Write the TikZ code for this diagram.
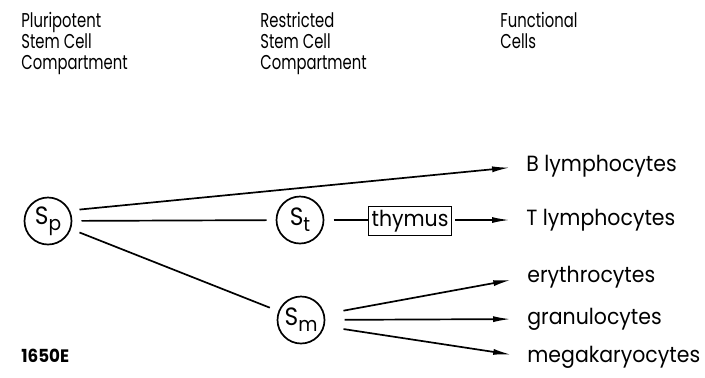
\documentclass[tikz,border=0pt]{standalone}
\usepackage{fontspec}
\setmainfont{Poppins}[FakeStretch=0.93]
\newfontfamily\headfont{Poppins}[FakeStretch=0.74]
\usetikzlibrary{arrows.meta}
\newcommand{\stemsub}[1]{\raisebox{-0.45ex}{\fontsize{10}{10}\selectfont #1}}

\begin{document}
\begin{tikzpicture}[x=0.5pt,y=-0.5pt,
    stem/.style={draw,circle,line width=0.85pt,minimum size=23.5pt,inner sep=0pt,outer sep=5pt,font=\fontsize{12.5}{12.5}\selectfont},
    head/.style={anchor=north west,align=left,inner sep=0pt,font=\headfont\fontsize{10}{10.5}\selectfont},
    cell/.style={anchor=west,inner sep=0pt,font=\fontsize{11}{12}\selectfont},
    arr/.style={line width=0.85pt,-{Latex[length=9pt,width=3pt]},shorten >=8pt},
    ln/.style={line width=0.85pt}]
  \useasboundingbox (0,0) rectangle (705,377);
  % column headings
  \node[head] (pluri) at (21,12) {Pluripotent\\Stem Cell\\Compartment};
  \node[head] (restr) at (260,12) {Restricted\\Stem Cell\\Compartment};
  \node[head] (func) at (500,12) {Functional\\Cells};
  % stem cells
  \node[stem] (sp) at (48,221) {S\stemsub{p}};
  \node[stem] (st) at (300,220) {S\stemsub{t}};
  \node[stem] (sm) at (301,320) {S\stemsub{m}};
  \node[draw,line width=0.85pt,inner xsep=1.5pt,inner ysep=1.8pt,font=\fontsize{11}{12}\selectfont] (thy) at (410,221) {thymus};
  % functional cells
  \node[cell] (blym) at (526,166) {B lymphocytes};
  \node[cell] (tlym) at (526,220) {T lymphocytes};
  \node[cell] (ery) at (527,277) {erythrocytes};
  \node[cell] (gran) at (527,319) {granulocytes};
  \node[cell] (mega) at (527,357) {megakaryocytes};
  \node[anchor=west,inner sep=0pt,font=\bfseries\fontsize{9}{9}\selectfont] (code) at (21,356) {1650E};
  % connections
  \draw[arr] (sp.20) -- (blym.west);
  \draw[ln] (sp) -- (st);
  \draw[ln] (sp.-20) -- (sm);
  \draw[ln] (st) -- (st -| thy.west);
  \draw[arr,shorten <=1.5pt] (thy.east |- tlym.west) -- (tlym.west);
  \draw[arr,shorten <=5pt] (sm.13) -- (ery.west);
  \draw[arr,shorten <=5pt] (sm) -- (gran.west);
  \draw[arr,shorten <=5pt] (sm.-13) -- (mega.west);
\end{tikzpicture}
\end{document}
